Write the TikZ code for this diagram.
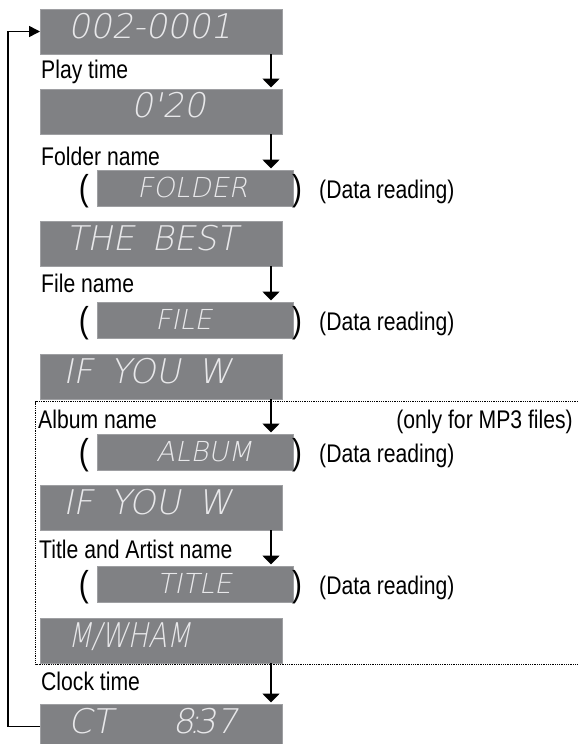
\documentclass[tikz,border=0pt]{standalone}
\usepackage{fontspec}
\setmainfont{Liberation Sans}[FakeStretch=0.83]
\IfFontExistsTF{DejaVu Sans ExtraLight}
  {\newfontfamily\lcdfont{DejaVu Sans ExtraLight}[FakeSlant=0.2, WordSpace=1.6]}
  {\newfontfamily\lcdfont{DejaVu Sans Mono}[FakeSlant=0.2]}
\newfontfamily\lcdnarrow{DejaVu Sans ExtraLight}[FakeSlant=0.2, FakeStretch=0.8]
\usetikzlibrary{arrows.meta}
\definecolor{lcdgray}{RGB}{128,129,132}
\definecolor{lcdedge}{RGB}{158,159,162}
\definecolor{lcdtext}{RGB}{232,232,234}
\tikzset{
  bigbox/.style={draw=lcdedge, line width=0.7pt, fill=lcdgray, minimum width=242pt, minimum height=45pt, inner sep=0pt, outer sep=0pt, anchor=north west},
  smallbox/.style={bigbox, minimum width=196pt, minimum height=36.5pt},
  lcdbig/.style={anchor=base west, inner sep=0pt, text=lcdtext, font=\lcdfont\fontsize{34}{34}\selectfont},
  lcdsmall/.style={lcdbig, font=\lcdfont\fontsize{27.5}{28}\selectfont},
  lbl/.style={anchor=base west, inner sep=0pt, font=\fontsize{25.5}{27}\selectfont},
  paren/.style={inner sep=0pt, font=\fontsize{36}{36}\selectfont},
  darrow/.style={line width=1.8pt, -{Triangle[width=17pt,length=9pt]}, shorten >=1.5pt},
  loopline/.style={line width=1.6pt, -{Triangle[width=11pt,length=11pt]}},
  dotline/.style={line width=0.9pt, dash pattern=on 0.9pt off 0.9pt}
}
\begin{document}
\begin{tikzpicture}[x=1pt,y=-1pt]
\useasboundingbox (0,0) rectangle (578,744);
% dotted MP3 frame
\coordinate (dtr) at (578,401.5);
\coordinate (dtl) at (35.5,401.5);
\coordinate (dbl) at (35.5,664);
\coordinate (dbr) at (578,664);
\draw[dotline] (dtr) -- (dtl) -- (dbl) -- (dbr);
% boxes
\node[bigbox] (b1) at (40,9) {};
\node[bigbox] (b2) at (40,89) {};
\node[smallbox] (folder) at (97,170) {};
\node[bigbox] (best) at (40,221) {};
\node[smallbox] (file) at (97,302) {};
\node[bigbox] (ify1) at (40,354) {};
\node[smallbox] (album) at (97,434) {};
\node[bigbox] (ify2) at (40,485) {};
\node[smallbox] (title) at (97,566) {};
\node[bigbox] (mw) at (40,618) {};
\node[bigbox] (ct) at (40,704) {};
% LCD texts
\node[lcdbig] (t1) at (68,38) {002-0001};
\node[lcdbig] (t2) at (131,117) {0'20};
\node[lcdsmall] (t3) at (137,197) {FOLDER};
\node[lcdbig] (t4) at (66,250) {THE BEST};
\node[lcdsmall] (t5) at (155,329) {FILE};
\node[lcdbig] (t6) at (63,383) {IF YOU W};
\node[lcdsmall] (t7) at (156,461) {ALBUM};
\node[lcdbig] (t8) at (63,514) {IF YOU W};
\node[lcdsmall] (t9) at (157,593) {TITLE};
\node[lcdbig, font=\lcdnarrow\fontsize{34}{34}\selectfont] (t10) at (68,647) {M/WHAM};
\node[lcdbig] (t11) at (68,733) {CT\hspace{60pt}8\makebox[0pt]{:}37};
% labels
\node[lbl] (l1) at (41,78) {Play time};
\node[lbl] (l2) at (41,165) {Folder name};
\node[lbl] (l3) at (41,292) {File name};
\node[lbl] (l4) at (38,428) {Album name};
\node[lbl, anchor=base east] (l4b) at (573,428) {(only for MP3 files)};
\node[lbl] (l5) at (39,558) {Title and Artist name};
\node[lbl] (l6) at (41,690) {Clock time};
% parentheses and data reading
\node[paren, anchor=base east] (pl1) at (89,200) {(};
\node[paren, anchor=base west] (pr1) at (292,200) {)};
\node[lbl] (d1) at (319,198) {(Data reading)};
\node[paren, anchor=base east] (pl2) at (89,332) {(};
\node[paren, anchor=base west] (pr2) at (292,332) {)};
\node[lbl] (d2) at (319,330) {(Data reading)};
\node[paren, anchor=base east] (pl3) at (89,464) {(};
\node[paren, anchor=base west] (pr3) at (292,464) {)};
\node[lbl] (d3) at (319,462) {(Data reading)};
\node[paren, anchor=base east] (pl4) at (89,596) {(};
\node[paren, anchor=base west] (pr4) at (292,596) {)};
\node[lbl] (d4) at (319,594) {(Data reading)};
% down arrows
\draw[darrow] ([xshift=-11pt]b1.south east) -- ([xshift=-11pt]b1.south east |- b2.north);
\draw[darrow] ([xshift=-11pt]b2.south east) -- ([xshift=-11pt]b2.south east |- folder.north);
\draw[darrow] ([xshift=-11pt]best.south east) -- ([xshift=-11pt]best.south east |- file.north);
\draw[darrow] ([xshift=-11pt]ify1.south east) -- ([xshift=-11pt]ify1.south east |- album.north);
\draw[darrow] ([xshift=-11pt]ify2.south east) -- ([xshift=-11pt]ify2.south east |- title.north);
\draw[darrow] ([xshift=-11pt]mw.south east) -- ([xshift=-11pt]mw.south east |- ct.north);
% loop back
\draw[loopline] (ct.west) -- ++(-32,0) |- (b1.west);
\end{tikzpicture}
\end{document}
